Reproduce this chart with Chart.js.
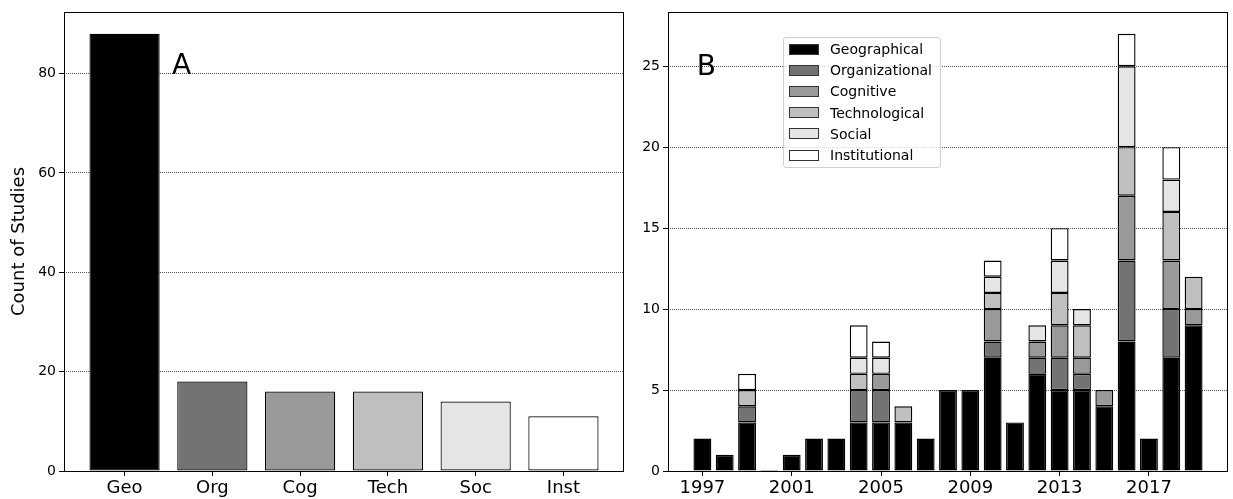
<!DOCTYPE html>
<html>
<head>
<meta charset="utf-8">
<title>Proximity studies</title>
<script src="https://cdn.jsdelivr.net/npm/chart.js@4.4.0/dist/chart.umd.min.js"></script>
<style>
  html, body { margin: 0; padding: 0; background: #fff; }
  body { width: 1233px; height: 499px; position: relative; overflow: hidden; font-family: 'DejaVu Sans', sans-serif; }
  .panel { position: absolute; top: 0; height: 499px; }
  #panelA { left: 0; width: 630px; }
  #panelB { left: 630px; width: 603px; }
  #legend {
    position: absolute; left: 783px; top: 37px; width: 158px;
    box-sizing: border-box; padding: 0.5px 6px 1px 5px;
    background: rgba(255,255,255,0.8); border: 1px solid #d0d0d0; border-radius: 3px;
    font-size: 14px; color: #000;
  }
  #legend .row { height: 21.2px; display: flex; align-items: center; }
  #legend .sw { width: 30px; height: 11px; box-sizing: border-box; border: 1px solid #333; margin-right: 11px; }
</style>
</head>
<body>
<div class="panel" id="panelA"><canvas id="chartA"></canvas></div>
<div class="panel" id="panelB"><canvas id="chartB"></canvas></div>
<div id="legend"></div>
<script>
// panel A: total count per proximity dimension
const CATEGORIES = ['Geo', 'Org', 'Cog', 'Tech', 'Soc', 'Inst'];
const TOTALS = [88, 18, 16, 16, 14, 11];

// panel B: studies per year, split by dimension
const YEARS = [1997, 1998, 1999, 2000, 2001, 2002, 2003, 2004, 2005, 2006, 2007, 2008,
               2009, 2010, 2011, 2012, 2013, 2014, 2015, 2016, 2017, 2018, 2019];
const YEAR_TICKS = [1997, 2001, 2005, 2009, 2013, 2017];
const GEO  = [2, 1, 3, 0, 1, 2, 2, 3, 3, 3, 2, 5, 5, 7, 3, 6, 5, 5, 4, 8, 2, 7, 9];
const ORG  = [0, 0, 1, 0, 0, 0, 0, 2, 2, 0, 0, 0, 0, 1, 0, 1, 2, 1, 0, 5, 0, 3, 0];
const COG  = [0, 0, 0, 0, 0, 0, 0, 0, 1, 0, 0, 0, 0, 2, 0, 1, 2, 1, 1, 4, 0, 3, 1];
const TECH = [0, 0, 1, 0, 0, 0, 0, 1, 0, 1, 0, 0, 0, 1, 0, 0, 2, 2, 0, 3, 0, 3, 2];
const SOC  = [0, 0, 0, 0, 0, 0, 0, 1, 1, 0, 0, 0, 0, 1, 0, 1, 2, 1, 0, 5, 0, 2, 0];
const INST = [0, 0, 1, 0, 0, 0, 0, 2, 1, 0, 0, 0, 0, 1, 0, 0, 2, 0, 0, 2, 0, 2, 0];

const SERIES_NAMES = ['Geographical', 'Organizational', 'Cognitive', 'Technological', 'Social', 'Institutional'];
const SERIES = [GEO, ORG, COG, TECH, SOC, INST];
const GRAYS = ['#000000', '#737373', '#999999', '#bfbfbf', '#e5e5e5', '#ffffff'];

const FONT = "'DejaVu Sans', sans-serif";
Chart.defaults.font.family = FONT;
Chart.defaults.color = '#000';

// caja completa alrededor del area de datos (estilo matplotlib)
const frame = {
  id: 'frame',
  afterDatasetsDraw(chart) {
    const { ctx, chartArea: a } = chart;
    ctx.save();
    ctx.strokeStyle = '#000';
    ctx.lineWidth = 1;
    ctx.strokeRect(Math.round(a.left) + 0.5, Math.round(a.top) + 0.5,
                   Math.round(a.right - a.left) - 1, Math.round(a.bottom - a.top));
    ctx.restore();
  },
};

// letra del panel en coordenadas de datos
const panelLabel = {
  id: 'panelLabel',
  afterDatasetsDraw(chart, args, opts) {
    if (!opts.text) return;
    const { ctx, scales } = chart;
    ctx.save();
    ctx.font = `28px ${FONT}`;
    ctx.fillStyle = '#000';
    ctx.textBaseline = 'alphabetic';
    ctx.fillText(opts.text, scales.x.getPixelForValue(opts.x), scales.y.getPixelForValue(opts.y));
    ctx.restore();
  },
};

function xAxis(min, max, tickValues, labelFor) {
  return {
    type: 'linear', min, max, offset: false, stacked: true,
    afterBuildTicks(s) { s.ticks = tickValues.map(v => ({ value: v })); },
    afterFit(s) { s.height = 28; s.paddingLeft = 0; s.paddingRight = 0; },
    grid: { display: true, drawOnChartArea: false, offset: false, tickColor: '#000', tickLength: 5 },
    border: { display: false },
    ticks: { autoSkip: false, maxRotation: 0, padding: 2, font: { size: 18 }, callback: labelFor },
  };
}

function yAxis(max, step, width, title) {
  return {
    type: 'linear', min: 0, max, stacked: true,
    afterFit(s) { s.width = width; s.paddingTop = 0; s.paddingBottom = 0; },
    grid: { color: '#555', lineWidth: 1, tickColor: '#000', tickLength: 5, tickBorderDash: [] },
    border: { display: false, dash: [1, 1] },
    ticks: { stepSize: step, includeBounds: false, padding: 3, font: { size: 14 } },
    title: title ? { display: true, text: title, font: { size: 18 }, padding: { top: 9, bottom: 0 } } : { display: false },
  };
}

new Chart(document.getElementById('chartA'), {
  type: 'bar',
  data: {
    datasets: [{
      data: TOTALS.map((v, i) => ({ x: i, y: v })),
      backgroundColor: GRAYS,
      borderColor: '#000',
      borderWidth: 1.2,
      borderSkipped: false,
      barPercentage: 0.8,
      categoryPercentage: 1,
    }],
  },
  options: {
    responsive: true,
    maintainAspectRatio: false,
    animation: false,
    layout: { padding: { top: 12, right: 6, left: 0, bottom: 0 } },
    plugins: {
      legend: { display: false },
      tooltip: { enabled: false },
      panelLabel: { text: 'A', x: 0.54, y: 80 },
    },
    scales: {
      x: xAxis(-0.69, 5.69, CATEGORIES.map((c, i) => i), v => CATEGORIES[v]),
      y: yAxis(92.4, 20, 64, 'Count of Studies'),
    },
  },
  plugins: [frame, panelLabel],
});

new Chart(document.getElementById('chartB'), {
  type: 'bar',
  data: {
    datasets: SERIES.map((vals, k) => ({
      label: SERIES_NAMES[k],
      data: vals.map((v, i) => ({ x: YEARS[i], y: v })),
      backgroundColor: GRAYS[k],
      borderColor: '#000',
      borderWidth: 1.4,
      borderSkipped: false,
      barPercentage: 0.8,
      categoryPercentage: 1,
      minBarLength: k === 0 ? 1 : 0,
    })),
  },
  options: {
    responsive: true,
    maintainAspectRatio: false,
    animation: false,
    layout: { padding: { top: 12, right: 5, left: 0, bottom: 0 } },
    plugins: {
      legend: { display: false },
      tooltip: { enabled: false },
      panelLabel: { text: 'B', x: 1996.75, y: 24.45 },
    },
    scales: {
      x: xAxis(1995.46, 2020.54, YEAR_TICKS, v => String(v)),
      y: yAxis(28.35, 5, 38, null),
    },
  },
  plugins: [frame, panelLabel],
});

// leyenda HTML dentro del panel B
const legendEl = document.getElementById('legend');
SERIES_NAMES.forEach((name, k) => {
  const row = document.createElement('div');
  row.className = 'row';
  const sw = document.createElement('span');
  sw.className = 'sw';
  sw.style.background = GRAYS[k];
  const txt = document.createElement('span');
  txt.textContent = name;
  row.appendChild(sw);
  row.appendChild(txt);
  legendEl.appendChild(row);
});
</script>
</body>
</html>
